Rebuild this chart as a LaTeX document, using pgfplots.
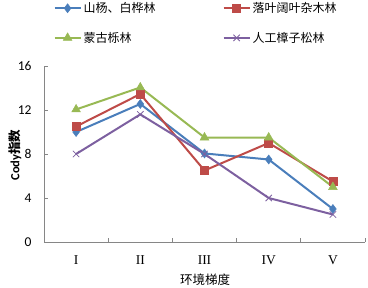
\documentclass[border=0pt]{standalone}
\usepackage{pgfplots}
\pgfplotsset{compat=1.18}
\usepackage{fontspec}
\setmainfont{Liberation Serif}
\newfontfamily\cjk{Noto Sans CJK SC}
\newfontfamily\carlito{Carlito}
\definecolor{sblue}{HTML}{4A7EBB}
\definecolor{sred}{HTML}{BE4B48}
\definecolor{sgreen}{HTML}{98B954}
\definecolor{spurple}{HTML}{7D60A0}
\definecolor{axgray}{HTML}{868686}
\begin{document}
\begin{tikzpicture}
\path[use as bounding box] (0,0) rectangle (368bp,288bp);
\begin{axis}[
  at={(44bp,46bp)}, anchor=south west,
  width=321bp, height=176bp, scale only axis,
  xmin=-0.5, xmax=4.5, ymin=0, ymax=16,
  axis x line*=bottom, axis y line*=left,
  axis line style={draw=axgray, line width=0.8bp},
  every tick/.style={draw=axgray, line width=0.8bp},
  tick align=inside, major tick length=4bp,
  xtick={-0.5,0.5,1.5,2.5,3.5,4.5},
  x tick label as interval,
  xticklabels={I,II,III,IV,V},
  ytick={0,4,8,12,16},
  /pgf/number format/assume math mode=true,
  y tick label style={font=\carlito\fontsize{13.5bp}{13.5bp}\selectfont, xshift=-9bp},
  x tick label style={font=\fontsize{13.5bp}{13.5bp}\selectfont, yshift=-10bp},
  xlabel={\cjk 环境梯度},
  xlabel style={font=\fontsize{12.5bp}{12.5bp}\selectfont, at={(axis description cs:0.5016,-0.216)}, anchor=center},
  ylabel={\carlito\bfseries Cody{\cjk\bfseries 指数}},
  ylabel style={font=\fontsize{12.5bp}{12.5bp}\selectfont, at={(axis description cs:-0.09,0.494)}, anchor=center},
  legend columns=2,
  legend cell align=left,
  legend style={at={(axis description cs:0.02,1.385)}, anchor=north west,
    draw=none, fill=none, font=\cjk\fontsize{12bp}{12bp}\selectfont,
    row sep=14bp,
    /tikz/every even column/.append style={column sep=65bp}},
  legend image code/.code={%
    \draw[mark repeat=2,mark phase=2,#1] plot coordinates {(0bp,0bp) (13bp,0bp) (26bp,0bp)};},
  every axis plot/.append style={line width=2bp},
]
\addplot[color=sblue, mark=diamond*, mark size=4.5bp, mark options={line width=0.5bp}]
  coordinates {(0,10.0) (1,12.55) (2,8.05) (3,7.5) (4,3.0)};
\addlegendentry{山杨、白桦林}
\addplot[color=sred, mark=square*, mark size=4bp, mark options={line width=0.5bp}]
  coordinates {(0,10.5) (1,13.45) (2,6.5) (3,9.0) (4,5.5)};
\addlegendentry{落叶阔叶杂木林}
\addplot[color=sgreen, mark=triangle*, mark size=5bp, mark options={line width=0.5bp}]
  coordinates {(0,12.05) (1,14.05) (2,9.5) (3,9.5) (4,5.0)};
\addlegendentry{蒙古栎林}
\addplot[color=spurple, mark=x, mark size=4.5bp, mark options={line width=0.8bp}]
  coordinates {(0,8.0) (1,11.6) (2,8.0) (3,4.0) (4,2.5)};
\addlegendentry{人工樟子松林}
\end{axis}
\end{tikzpicture}
\end{document}
